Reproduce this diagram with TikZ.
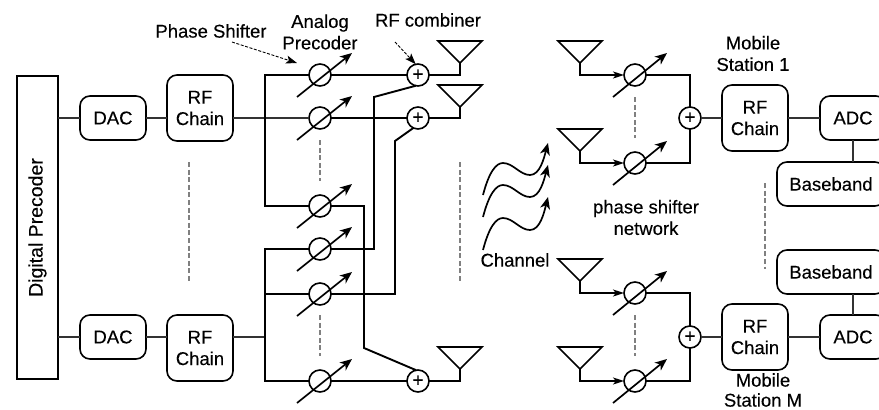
\documentclass[tikz,border=0pt]{standalone}
\usepackage{fontspec}
\setmainfont{Liberation Sans}[FakeBold=0.25]
\usetikzlibrary{positioning, shapes.geometric, arrows.meta, calc}

\begin{document}
\begin{tikzpicture}[
    x=1pt, y=-1pt,
    lbl/.style={align=center, inner sep=0pt, font=\fontsize{18.5}{21.5}\selectfont},
    box/.style={rectangle, rounded corners=10pt, draw, line width=1.6pt, outer sep=0pt, minimum width=66pt, align=center, inner sep=0pt, font=\fontsize{18.5}{21.5}\selectfont},
    dac/.style={box, minimum height=44pt},
    rfc/.style={box, minimum height=66pt},
    dpc/.style={rectangle, draw, line width=1.6pt, outer sep=0pt, rotate=90, minimum width=303pt, minimum height=41pt, inner sep=0pt, font=\fontsize{19.5}{22}\selectfont},
    shifter/.style={circle, draw, line width=1.6pt, outer sep=0pt, minimum size=22pt, inner sep=0pt},
    comb/.style={shifter, font=\fontsize{19}{19}\selectfont},
    ant/.style={isosceles triangle, isosceles triangle apex angle=90, shape border rotate=-90, draw, line width=1.6pt, outer sep=0pt, inner sep=0pt, minimum height=22pt, minimum width=44pt, anchor=apex},
    wire/.style={line width=1.1pt, draw=black!80},
    bus/.style={line width=1.4pt},
    rfw/.style={line width=1.9pt},
    tune/.style={-{Stealth[length=12pt, width=10pt, inset=3.5pt]}, line width=1.7pt},
    chan/.style={tune},
    feed/.style={rfw, -{Stealth[length=11pt, width=7pt, inset=3pt]}},
    note/.style={-{Stealth[length=11pt, width=8pt, inset=2.5pt]}, line width=0.9pt, dash pattern=on 3pt off 1.6pt},
    vdots/.style={line width=1.8pt, draw=black!50, dash pattern=on 5pt off 2.6pt}
]
\useasboundingbox (0,0) rectangle (879,410);

% left side
\node[dpc] (dp) at (37.5,227.5) {Digital Precoder};

\node[dac] (dac1) at (113,118) {DAC};
\node[rfc, right=21pt of dac1, yshift=10pt] (rf1) {RF\\Chain};
\node[dac] (dac2) at (113,337) {DAC};
\node[rfc, right=21pt of dac2, yshift=-11pt] (rf2) {RF\\Chain};

\draw[wire] (dac1.west -| dp.south) -- (dac1);
\draw[wire] (dac2.west -| dp.south) -- (dac2);
\draw[wire] (dac1.east) -- (dac1.east -| rf1.west);
\draw[wire] (dac2.east) -- (dac2.east -| rf2.west);

% analog precoder
\node[shifter] (ps1) at (320,75) {};
\node[shifter, below=21pt of ps1] (ps2) {};
\node[shifter] (ps3) at (320,206) {};
\node[shifter, below=21pt of ps3] (ps4) {};
\node[shifter, below=23pt of ps4] (ps5) {};
\node[shifter] (ps6) at (320,381) {};

\draw[tune] ($(ps1)+(-23,22)$) -- ($(ps1)+(32,-22)$);
\draw[tune] ($(ps2)+(-23,22)$) -- ($(ps2)+(32,-22)$);
\draw[tune] ($(ps3)+(-23,22)$) -- ($(ps3)+(32,-22)$);
\draw[tune] ($(ps4)+(-23,22)$) -- ($(ps4)+(32,-22)$);
\draw[tune] ($(ps5)+(-23,22)$) -- ($(ps5)+(32,-22)$);
\draw[tune] ($(ps6)+(-23,22)$) -- ($(ps6)+(32,-22)$);

\coordinate (bus1) at (265,118);
\coordinate (bus2) at (265,337);

\draw[wire] (rf1.east |- ps2) -- (ps2);
\draw[wire] (rf2.east |- bus2) -- (bus2);
\draw[bus] (ps1) -| (bus1) |- (ps3);
\draw[bus] (ps4) -| (bus2) |- (ps6);
\draw[bus] (bus2 |- ps5) -- (ps5);

\node[comb, right=76pt of ps1] (c1) {+};
\node[comb, right=76pt of ps2] (c2) {+};
\node[comb, right=76pt of ps6] (c3) {+};

\node[ant] (a1) at (460,63) {};
\node[ant] (a2) at (460,107) {};
\node[ant] (a3) at (460,369) {};

\draw[rfw] (ps1) -- (c1);
\draw[rfw] (ps2) -- (c2);
\draw[rfw] (ps6) -- (c3);
\draw[rfw] (c1) -| (a1.apex);
\draw[rfw] (c2) -| (a2.apex);
\draw[rfw] (c3) -| (a3.apex);

\coordinate (rt1) at (374,97);
\coordinate (rt2) at (395,141);
\coordinate (rt3) at (364,348);
\draw[rfw] (c1.258) -- (rt1) |- (ps4);
\draw[rfw] (c2.245) -- (rt2) |- (ps5);
\draw[rfw] (ps3) -| (rt3) -- (c3.100);

% channel
\draw[chan] (483,195) .. controls (489,172) and (496,163) .. (503,163) .. controls (513,163) and (520,175) .. (530,175) .. controls (540,175) and (544,158) .. (548,143);
\draw[chan] (483,217) .. controls (489,194) and (496,185) .. (503,185) .. controls (513,185) and (520,197) .. (530,197) .. controls (540,197) and (544,180) .. (548,165);
\draw[chan] (483,250) .. controls (489,227) and (496,218) .. (503,218) .. controls (513,218) and (520,230) .. (530,230) .. controls (540,230) and (544,213) .. (548,197);

% mobile stations
\node[shifter] (pm1) at (635,75) {};
\node[shifter] (pm2) at (635,163) {};
\node[shifter] (pm3) at (635,293) {};
\node[shifter] (pm4) at (635,381) {};

\draw[tune] ($(pm1)+(-22,22)$) -- ($(pm1)+(32,-22)$);
\draw[tune] ($(pm2)+(-22,22)$) -- ($(pm2)+(32,-22)$);
\draw[tune] ($(pm3)+(-22,22)$) -- ($(pm3)+(32,-22)$);
\draw[tune] ($(pm4)+(-22,22)$) -- ($(pm4)+(32,-22)$);

\node[ant] (b1) at (580,63) {};
\node[ant] (b2) at (580,151) {};
\node[ant] (b3) at (580,281) {};
\node[ant] (b4) at (580,369) {};

\draw[feed] (b1.apex) |- (pm1);
\draw[feed] (b2.apex) |- (pm2);
\draw[feed] (b3.apex) |- (pm3);
\draw[feed] (b4.apex) |- (pm4);

\node[comb] (c4) at (690,118) {+};
\node[comb] (c5) at (690,337) {+};

\draw[rfw] (pm1) -| (c4);
\draw[rfw] (pm2) -| (c4);
\draw[rfw] (pm3) -| (c5);
\draw[rfw] (pm4) -| (c5);

\node[rfc, right=21pt of c4] (rf3) {RF\\Chain};
\node[rfc, right=21pt of c5] (rf4) {RF\\Chain};
\node[dac, right=32pt of rf3] (adc1) {ADC};
\node[dac, right=32pt of rf4] (adc2) {ADC};
\node[box, minimum width=108pt, minimum height=44pt] (bb1) at (831,184) {Baseband};
\node[box, minimum width=108pt, minimum height=44pt] (bb2) at (831,272) {Baseband};

\draw[wire] (c4) -- (rf3);
\draw[wire] (c5) -- (rf4);
\draw[wire] (rf3) -- (adc1);
\draw[wire] (rf4) -- (adc2);
\draw[wire] (adc1) -- (adc1 |- bb1.north);
\draw[wire] (adc2) -- (adc2 |- bb2.south);

% dots
\coordinate (d1) at (189,162);
\coordinate (d2) at (189,283);
\coordinate (d3) at (460,162);
\coordinate (d4) at (460,283);
\coordinate (d5) at (765,183);
\coordinate (d6) at (765,269);
\draw[vdots] (d1) -- (d2);
\draw[vdots] (d3) -- (d4);
\draw[vdots] (d5) -- (d6);
\draw[vdots] ($(ps2)+(0,22)$) -- ($(ps2)+(0,63)$);
\draw[vdots] ($(ps5)+(0,21)$) -- ($(ps5)+(0,62)$);
\draw[vdots] ($(pm1)+(0,22)$) -- ($(pm1)+(0,63)$);
\draw[vdots] ($(pm3)+(0,22)$) -- ($(pm3)+(0,63)$);

% labels
\node[lbl] (lps) at (211,31) {Phase Shifter};
\node[lbl] (lan) at (320,32) {Analog\\Precoder};
\node[lbl] (lrf) at (428,20) {RF combiner};
\node[lbl] (lm1) at (753,53.5) {Mobile\\Station 1};
\node[lbl, font=\fontsize{18.5}{20}\selectfont] (lm2) at (763,390) {Mobile\\Station M};
\node[lbl] (lnet) at (646,217.5) {phase shifter\\network};
\node[lbl] (lch) at (515,260) {Channel};

\coordinate (nt1) at (232,42);
\coordinate (nt2) at (297,63);
\coordinate (nt3) at (395,42);
\draw[note] (nt1) -- (nt2);
\draw[note] (nt3) -- (c1.102);
\end{tikzpicture}
\end{document}
